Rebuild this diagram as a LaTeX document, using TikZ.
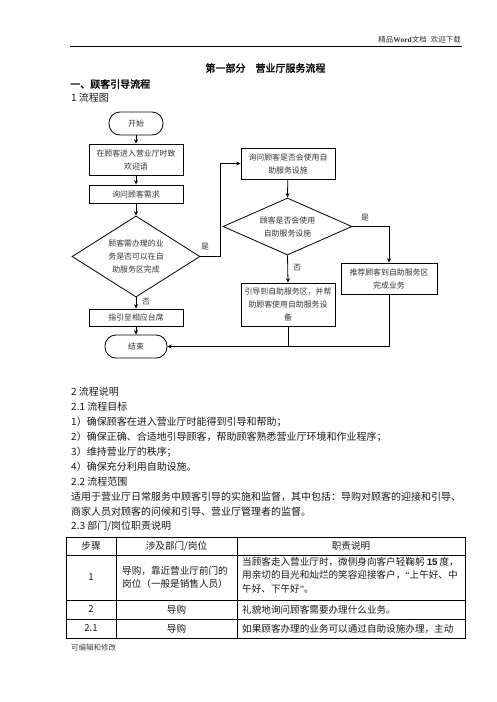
\documentclass[tikz,border=0pt]{standalone}
\usepackage{fontspec}
\setmainfont{Noto Sans CJK SC}[AutoFakeBold=2]
\newfontfamily\lserif{Liberation Serif}
\newfontfamily\lsans{Liberation Sans}
\usetikzlibrary{shapes.geometric,arrows.meta}
\begin{document}
\begin{tikzpicture}[x=1pt,y=-1pt,
  fc/.style={font=\fontsize{7.9}{13}\selectfont, text=black!80},
  box/.style={draw, line width=0.8pt, rectangle, minimum width=94pt, inner sep=0pt, align=center, fc},
  term/.style={box, rounded corners=11pt, minimum height=23pt},
  dia/.style={draw, line width=0.8pt, diamond, inner sep=0pt, align=center, fc},
  arr/.style={line width=0.8pt, -{Stealth[length=4.5pt,width=4pt]}},
  ln/.style={line width=0.8pt},
  lab/.style={fc, inner sep=0pt},
  bt/.style={font=\fontsize{10}{15}\selectfont, anchor=west, inner sep=0pt, text=black!90},
  tt/.style={font=\fontsize{9.6}{13.5}\selectfont, inner sep=0pt, text=black!90},
  tl/.style={line width=0.8pt},
]
\useasboundingbox (0,0) rectangle (496,702);

% header
\node[anchor=east, inner sep=0pt, font=\fontsize{7.5}{9}\selectfont, text=black!80] (hdr) at (461,40) {精品{\lserif\bfseries Word}文档\hspace{4pt}欢迎下载};
\coordinate (hl) at (70,46);
\coordinate (hr) at (462,46);
\draw[line width=0.9pt] (hl) -- (hr);

\node[inner sep=0pt, font=\fontsize{10}{12}\selectfont\bfseries] (title) at (265.5,68) {第一部分\hspace{10pt}营业厅服务流程};
\node[bt, font=\fontsize{10}{12}\selectfont\bfseries, text=black] (sec1) at (70,84) {一、顾客引导流程};
\node[bt] (s11) at (71,98) {1 流程图};

% flowchart
\node[term, minimum width=54pt] (start) at (136,123.5) {开始};
\node[box, minimum height=31pt] (a) at (136,159.5) {在顾客进入营业厅时致\\欢迎语};
\node[box, minimum height=18pt] (b) at (136,194) {询问顾客需求};
\node[dia, minimum width=128pt, minimum height=81pt, aspect=1.58] (d1) at (136,256.5) {顾客需办理的业\\务是否可以在自\\助服务区完成};
\node[box, minimum height=17pt] (c) at (136,317.5) {指引至相应台席};
\node[term, minimum width=62pt] (end) at (136,346.5) {结束};

\node[box, minimum height=31pt] (d) at (288,163.5) {询问顾客是否会使用自\\助服务设施};
\node[dia, minimum width=129pt, minimum height=57pt, aspect=2.26] (d2) at (287.5,226.5) {顾客是否会使用\\自助服务设施};
\node[box, minimum height=43pt] (e) at (288,304.5) {引导到自助服务区，并帮\\助顾客使用自助服务设\\备};
\node[box, minimum width=96pt, minimum height=31pt] (f) at (389,278.5) {推荐顾客到自助服务区\\完成业务};

\draw[arr] (start) -- (a);
\draw[arr] (a) -- (b);
\draw[arr] (b) -- (d1.north);
\draw[arr] (d1.south) -- (c);
\draw[arr] (c) -- (end);
\draw[arr] (d1.east) -- ++(20,0) |- (d.west);
\draw[arr] (d) -- (d2.north);
\draw[arr] (d2.east) -| (f.north);
\draw[arr] (d2.south) -- (e.north);
\draw[ln] (e.south) -- (e.south |- end.east);
\draw[arr] (f.south) |- (end.east);

\node[lab] (y1) at (205,247) {是};
\node[lab] (n1) at (146,302) {否};
\node[lab] (y2) at (365,218) {是};
\node[lab] (n2) at (297,268) {否};

% text section
\node[bt] (t1) at (71,392) {2 流程说明};
\node[bt] (t2) at (71,407) {2.1 流程目标};
\node[bt] (t3) at (71,422) {1）确保顾客在进入营业厅时能得到引导和帮助；};
\node[bt] (t4) at (71,437) {2）确保正确、合适地引导顾客，帮助顾客熟悉营业厅环境和作业程序；};
\node[bt] (t5) at (71,452) {3）维持营业厅的秩序；};
\node[bt] (t6) at (71,467) {4）确保充分利用自助设施。};
\node[bt] (t7) at (71,482) {2.2 流程范围};
\node[bt] (t8) at (71,497) {适用于营业厅日常服务中顾客引导的实施和监督，其中包括：导购对顾客的迎接和引导、};
\node[bt] (t9) at (71,512) {商家人员对顾客的问候和引导、营业厅管理者的监督。};
\node[bt] (t10) at (71,526) {2.3 部门/岗位职责说明};

% table
\draw[tl] (66,537) rectangle (465,638);
\draw[tl] (66,555) -- (465,555);
\draw[tl] (66,600) -- (465,600);
\draw[tl] (66,619) -- (465,619);
\draw[tl] (116,537) -- (116,638);
\draw[tl] (237,537) -- (237,638);

\node[tt] (h1) at (91,546) {步骤};
\node[tt] (h2) at (176.5,546) {涉及部门/岗位};
\node[tt] (h3) at (351,546) {职责说明};

\node[tt] (r1a) at (91,577.5) {1};
\node[tt, anchor=west, align=left] (r1b) at (122,577.5) {导购，靠近营业厅前门的\\岗位（一般是销售人员）};
\node[tt, anchor=north west, align=left] (r1c) at (242,557) {当顾客走入营业厅时，微侧身向客户轻鞠躬 {\lsans\bfseries 15} 度，\\用亲切的目光和灿烂的笑容迎接客户，{\lserif“}上午好、中\\午好、下午好{\lserif”}。};

\node[tt] (r2a) at (91,609.5) {2};
\node[tt] (r2b) at (176.5,609.5) {导购};
\node[tt, anchor=west] (r2c) at (242,609.5) {礼貌地询问顾客需要办理什么业务。};

\node[tt] (r3a) at (91,628.5) {2.1};
\node[tt] (r3b) at (176.5,628.5) {导购};
\node[tt, anchor=west] (r3c) at (242,628.5) {如果顾客办理的业务可以通过自助设施办理，主动};

\node[anchor=west, inner sep=0pt, font=\fontsize{7.5}{9}\selectfont, text=black!75] (note) at (71,648) {可编辑和修改};
\end{tikzpicture}
\end{document}
